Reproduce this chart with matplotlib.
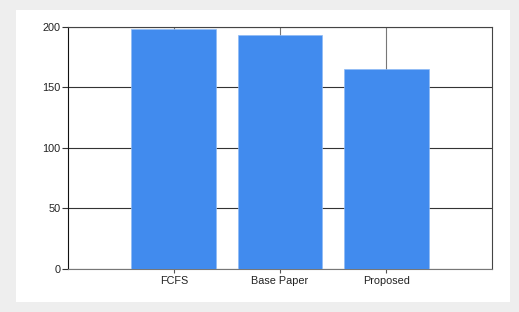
import numpy as np
import matplotlib.pyplot as plt
from matplotlib.patches import Rectangle

# dados
categorias = ["FCFS", "Base Paper", "Proposed"]
valores = [198, 193, 165]
yticks = [0, 50, 100, 150, 200]

plt.rcParams['font.family'] = ['Liberation Sans', 'DejaVu Sans']

fig = plt.figure(figsize=(5.19, 3.12), dpi=100, facecolor="#eeeeee")
# painel branco atras do grafico
fig.patches.append(Rectangle((16/519, 10/312), 494/519, 292/312,
                             transform=fig.transFigure, facecolor="white",
                             edgecolor="none", zorder=-5))

ax = fig.add_axes([67.7/519, 1 - 268.7/312, 424.6/519, 242/312])
ax.set_zorder(2)
ax.set_facecolor("white")

x = np.arange(1, len(categorias) + 1)
ax.bar(x, valores, width=0.8, color="#418bee", edgecolor="#8fbaf5",
       linewidth=0.5, zorder=3)

ax.set_xlim(0, len(categorias) + 1)
ax.set_ylim(0, 200)
ax.set_xticks(x)
ax.set_xticklabels(categorias)
ax.set_yticks(yticks)

ax.grid(axis="y", color="#333333", linewidth=0.8, zorder=1)
ax.grid(axis="x", color="#777777", linewidth=0.8, zorder=1)
ax.set_axisbelow(True)

for s in ["top", "right"]:
    ax.spines[s].set_color("#444444")
ax.spines["left"].set_color("#111111")
ax.spines["bottom"].set_color("#777777")
for s in ax.spines.values():
    s.set_linewidth(0.8)

ax.tick_params(axis="y", length=4, width=0.8, color="#333333", pad=1,
               labelsize=7.8, labelcolor="#222222")
ax.tick_params(axis="x", length=3, width=0.8, color="#555555", pad=2.5,
               labelsize=7.8, labelcolor="#222222")

plt.savefig("out.png", dpi=100, facecolor=fig.get_facecolor())
